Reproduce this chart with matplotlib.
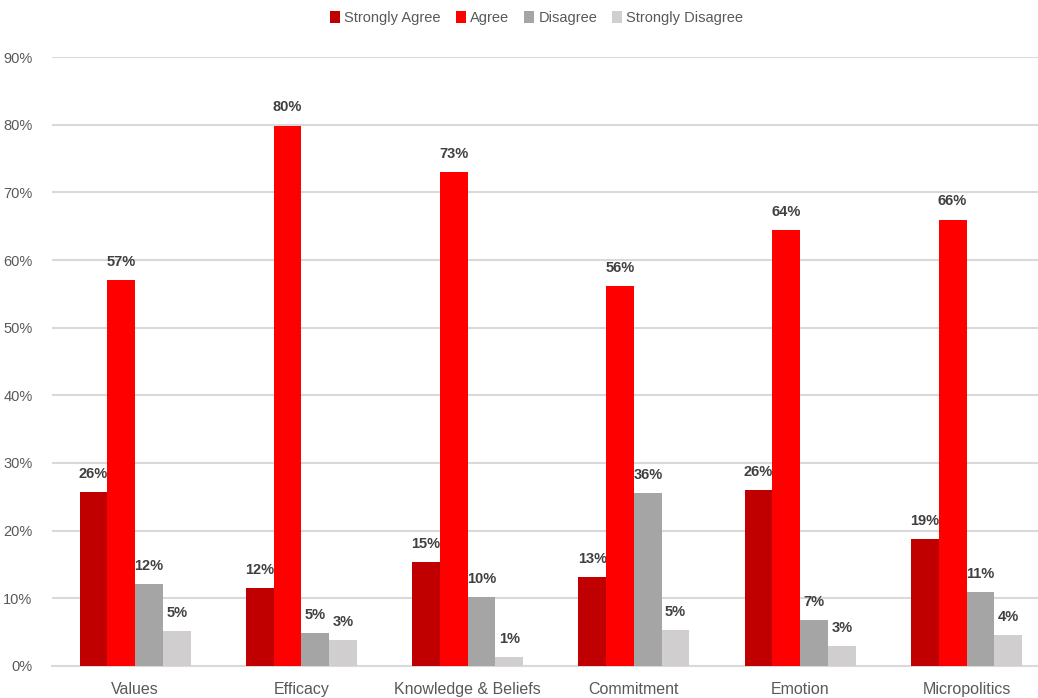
import numpy as np
import matplotlib.pyplot as plt
from matplotlib.patches import Patch

plt.rcParams['font.family'] = ['Liberation Sans Narrow', 'Liberation Sans', 'DejaVu Sans']

# --- data ---
categories = ['Values', 'Efficacy', 'Knowledge & Beliefs', 'Commitment', 'Emotion', 'Micropolitics']
series = ['Strongly Agree', 'Agree', 'Disagree', 'Strongly Disagree']
strongly_agree = [25.7, 11.5, 15.3, 13.1, 26.0, 18.7]
agree = [57.0, 79.9, 73.0, 56.1, 64.4, 66.0]
disagree = [12.1, 4.8, 10.2, 25.5, 6.8, 10.9]
strongly_disagree = [5.1, 3.8, 1.3, 5.3, 2.9, 4.5]
# printed labels (the Commitment/Disagree label differs from its bar in the source)
sa_labels = ['26%', '12%', '15%', '13%', '26%', '19%']
ag_labels = ['57%', '80%', '73%', '56%', '64%', '66%']
di_labels = ['12%', '5%', '10%', '36%', '7%', '11%']
sd_labels = ['5%', '3%', '1%', '5%', '3%', '4%']
colors = ['#C00000', '#FF0000', '#A5A5A5', '#D0CECE']

values = [strongly_agree, agree, disagree, strongly_disagree]
labels = [sa_labels, ag_labels, di_labels, sd_labels]

fig = plt.figure(figsize=(10.38, 6.98), dpi=100)
ax = fig.add_axes([52 / 1038, 32.3 / 698, 986 / 1038, 608.4 / 698])

x = np.arange(len(categories))
w = 0.167
for i, (vals, labs, c) in enumerate(zip(values, labels, colors)):
    pos = x + (i - 1.5) * w
    ax.bar(pos, np.array(vals) / 100, width=w, color=c, zorder=3)
    for px, v, t in zip(pos, vals, labs):
        ax.annotate(t, (px, v / 100), xytext=(0, 8), textcoords='offset points',
                    ha='center', va='bottom', fontsize=10.5, fontweight='bold', color='#404040')

ax.set_ylim(0, 0.9)
ax.set_xlim(-0.5, 5.43)
ax.set_yticks(np.arange(0, 0.91, 0.1))
ax.set_yticklabels([f'{int(round(t * 100))}%' for t in np.arange(0, 0.91, 0.1)])
ax.set_xticks(x)
ax.set_xticklabels(categories)
ax.tick_params(axis='y', length=0, labelsize=10.5, labelcolor='#595959', pad=14)
ax.tick_params(axis='x', length=0, labelsize=11.5, labelcolor='#595959', pad=12)
ax.grid(axis='y', color='#D9D9D9', lw=1.5, zorder=0)
for s in ['top', 'right', 'left']:
    ax.spines[s].set_visible(False)
ax.spines['bottom'].set_color('#D9D9D9')
ax.spines['bottom'].set_linewidth(1.5)

handles = [Patch(facecolor=c, label=s) for c, s in zip(colors, series)]
fig.legend(handles=handles, loc='center', bbox_to_anchor=(0.517, 0.974), ncol=4,
           frameon=False, fontsize=10.5, labelcolor='#595959', handlelength=0.7,
           handleheight=0.9, handletextpad=0.3, columnspacing=1.0)

plt.savefig('out.png', dpi=100)
